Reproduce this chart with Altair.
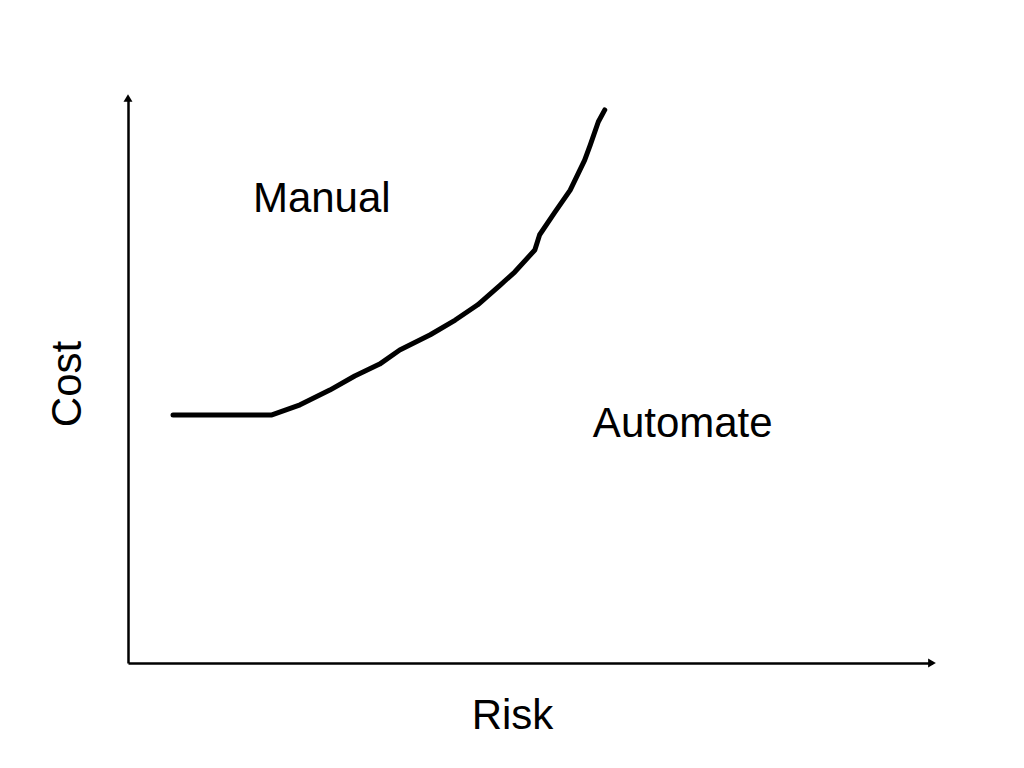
import altair as alt
import pandas as pd

# Curve (risk vs cost, 0-100 units)
risk = [5.6, 17.9, 21.4, 25.1, 28.2, 31.3, 33.8, 37.6, 40.7, 43.5, 46.3, 48.1,
        50.6, 51.2, 53.1, 55.0, 56.8, 57.5, 58.5, 59.3]
cost = [43.9, 43.9, 45.7, 48.3, 50.8, 52.9, 55.4, 58.1, 60.7, 63.4, 66.9, 69.2,
        73.1, 75.8, 79.8, 83.7, 89.0, 91.7, 95.8, 97.9]

label_text = ["Manual", "Automate"]
label_x = [24.1, 69.0]
label_y = [79.8, 40.0]

arrow_x = [0, 100]
arrow_y = [100, 0]
arrow_shape = ["triangle-up", "triangle-right"]

FONT = "Liberation Sans"

curve_df = pd.DataFrame({"risk": risk, "cost": cost, "order": list(range(len(risk)))})
label_df = pd.DataFrame({"label": label_text, "x": label_x, "y": label_y})
arrow_df = pd.DataFrame({"x": arrow_x, "y": arrow_y, "shape": arrow_shape})

xs = alt.Scale(domain=[0, 100], nice=False, zero=False)
ys = alt.Scale(domain=[0, 100], nice=False, zero=False)

x_axis = alt.Axis(title="Risk", ticks=False, labels=False, grid=False,
                  domainColor="black", domainWidth=2.5,
                  titleFont=FONT, titleFontSize=42, titleFontWeight="normal",
                  titleColor="black", titleX=384, titleY=65,
                  titleAlign="center", titleBaseline="alphabetic")
y_axis = alt.Axis(title="Cost", ticks=False, labels=False, grid=False,
                  domainColor="black", domainWidth=2.5,
                  titleFont=FONT, titleFontSize=42, titleFontWeight="normal",
                  titleColor="black", titleX=-48, titleY=285.5, titleAngle=270,
                  titleAlign="center", titleBaseline="alphabetic")

curve = alt.Chart(curve_df).mark_line(color="black", strokeWidth=5, strokeCap="round",
                                     strokeJoin="round", interpolate="linear").encode(
    x=alt.X("risk:Q", scale=xs, axis=x_axis),
    y=alt.Y("cost:Q", scale=ys, axis=y_axis),
    order="order:Q",
)

labels = alt.Chart(label_df).mark_text(font=FONT, fontSize=42, color="black",
                                       align="center", baseline="alphabetic").encode(
    x=alt.X("x:Q", scale=xs),
    y=alt.Y("y:Q", scale=ys),
    text="label:N",
)

arrows = alt.Chart(arrow_df).mark_point(filled=True, color="black", opacity=1, size=80).encode(
    x=alt.X("x:Q", scale=xs),
    y=alt.Y("y:Q", scale=ys),
    shape=alt.Shape("shape:N", scale=None, legend=None),
)

chart = alt.layer(curve, labels, arrows).properties(
    width=804, height=565,
    autosize=alt.AutoSizeParams(type="none"),
    padding={"left": 120, "top": 90, "right": 84, "bottom": 97},
    background="white",
).configure_view(stroke=None)

chart.save("out.html", embed_options={"renderer": "svg", "actions": False})
